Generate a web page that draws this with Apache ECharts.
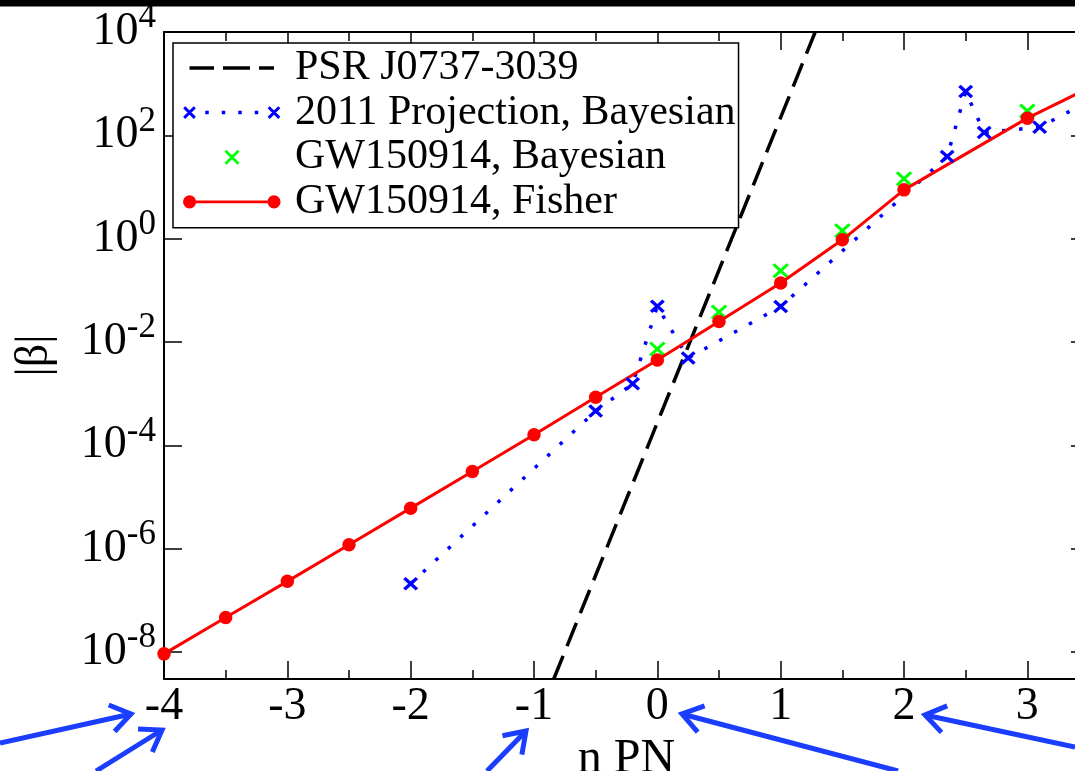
<!DOCTYPE html>
<html><head><meta charset="utf-8">
<script src="https://cdn.jsdelivr.net/npm/echarts@6/dist/echarts.min.js"></script>
<style>html,body{margin:0;padding:0;background:#fff}#c{width:1075px;height:771px}</style>
</head><body><div id="c"></div>
<script>
// ---------- data ----------
const seriesNames = ['PSR J0737-3039', '2011 Projection, Bayesian', 'GW150914, Bayesian', 'GW150914, Fisher'];
const yTickValues = [1e-8, 1e-6, 1e-4, 1e-2, 1, 1e2, 1e4];

const psrN = [-0.84, 1.28];
const psrBeta = [3e-9, 1e4];

const projN = [-2, -0.5, -0.2, 0, 0.25, 1, 2.35, 2.5, 2.65, 3.1, 3.5];
const projBeta = [2.1e-7, 4.6e-4, 1.55e-3, 4.9e-2, 4.9e-3, 4.85e-2, 38.8, 703, 113, 144, 460];

const bayesN = [0, 0.5, 1, 1.5, 2, 3];
const bayesBeta = [7.3e-3, 3.8e-2, 0.24, 1.42, 14.4, 297];

const fisherN = [-4, -3.5, -3, -2.5, -2, -1.5, -1, -0.5, 0, 0.5, 1, 1.5, 2, 3, 3.5];
const fisherBeta = [9.2e-9, 4.65e-8, 2.33e-7, 1.19e-6, 6.08e-6, 3.11e-5, 1.6e-4, 8.55e-4, 4.5e-3, 2.49e-2, 0.138, 0.95, 8.8, 215, 830];

// ---------- helpers ----------
const FONT = 'Liberation Serif';
const zip = (a, b) => a.map((v, i) => [v, b[i]]);
function polyP(pts) { return 'M' + pts.map(q => q[0].toFixed(2) + ' ' + q[1].toFixed(2)).join(' L') + ' Z '; }
function xShape(cx, cy, s, w) {
  const o = w / (2 * Math.SQRT2);
  const d1 = [[cx - s + o, cy - s - o], [cx + s + o, cy + s - o], [cx + s - o, cy + s + o], [cx - s - o, cy - s + o]];
  const d2 = [[cx - s - o, cy + s - o], [cx + s - o, cy - s - o], [cx + s + o, cy - s + o], [cx - s + o, cy + s + o]];
  return polyP(d1) + polyP(d2);
}
function rectP(x0, y0, x1, y1) { return polyP([[x0, y0], [x1, y0], [x1, y1], [x0, y1]]); }
function circP(cx, cy, r) { return `M${cx - r} ${cy} A${r} ${r} 0 1 0 ${cx + r} ${cy} A${r} ${r} 0 1 0 ${cx - r} ${cy} Z `; }

const IW = 107, IH = 20, CY = 10;
const BOX = `M0 0 M${IW} ${IH} `;
const iconPSR = 'path://' + BOX + rectP(6.5, CY - 1.75, 31, CY + 1.75) + rectP(40, CY - 1.75, 67, CY + 1.75) + rectP(76, CY - 1.75, 91, CY + 1.75);
const iconProj = 'path://' + BOX + xShape(6.5, CY, 5.3, 3) + xShape(91, CY, 5.3, 3)
  + [24, 40.5, 57, 73.5].map(x => rectP(x - 1.75, CY - 1.75, x + 1.75, CY + 1.75)).join('');
const iconBayes = 'path://' + BOX + xShape(49, CY, 6.5, 2.8);
const iconFisher = 'path://' + BOX + circP(6.5, CY, 6.6) + circP(91, CY, 6.6) + rectP(13, CY - 1.4, 84.5, CY + 1.4);

const symProj = 'path://' + xShape(0, 0, 5.6, 3.1);
const symBayes = 'path://' + xShape(0, 0, 6.5, 2.9);

// decorative slide arrows (tail -> tip), pixels
const arrows = [
  [[0, 743], [131, 714]],
  [[96, 771], [162, 730]],
  [[487, 771], [526, 731]],
  [[898, 771], [682, 714]],
  [[1075, 747], [925, 715]]
];
const ARROW = '#1a3dff';
function arrowGraphics() {
  const out = [];
  arrows.forEach(([t, p]) => {
    const ang = Math.atan2(t[1] - p[1], t[0] - p[0]);
    const L = 24, a = 0.6;
    const h1 = [p[0] + L * Math.cos(ang + a), p[1] + L * Math.sin(ang + a)];
    const h2 = [p[0] + L * Math.cos(ang - a), p[1] + L * Math.sin(ang - a)];
    out.push({ type: 'polyline', shape: { points: [t, p] }, style: { stroke: ARROW, lineWidth: 5, fill: null }, z: 100 });
    out.push({ type: 'polyline', shape: { points: [h1, p, h2] }, style: { stroke: ARROW, lineWidth: 5, fill: null, lineJoin: 'miter' }, z: 100 });
  });
  return out;
}

// ---------- axes ----------
const axisLine = { show: true, onZero: false, lineStyle: { color: '#000', width: 2 } };
const xBase = { type: 'value', min: -4, max: 3.5, splitLine: { show: false }, axisLine };
const tickStyle = { color: '#000', width: 1.5 };
const xAxes = [
  Object.assign({}, xBase, {
    position: 'bottom', interval: 1,
    axisTick: { inside: true, length: 18, lineStyle: tickStyle },
    axisLabel: { showMaxLabel: false, fontFamily: FONT, fontSize: 46, lineHeight: 46, color: '#000', margin: 5 },
    name: 'n PN', nameLocation: 'middle', nameGap: 44,
    nameTextStyle: { fontFamily: FONT, fontSize: 48, lineHeight: 46, color: '#000' }
  }),
  Object.assign({}, xBase, { position: 'bottom', interval: 0.5, axisLine: { show: false, onZero: false }, axisTick: { inside: true, length: 9, lineStyle: tickStyle }, axisLabel: { show: false } }),
  Object.assign({}, xBase, { position: 'top', interval: 1, axisTick: { inside: true, length: 18, lineStyle: tickStyle }, axisLabel: { show: false } }),
  Object.assign({}, xBase, { position: 'top', interval: 0.5, axisLine: { show: false, onZero: false }, axisTick: { inside: true, length: 9, lineStyle: tickStyle }, axisLabel: { show: false } })
];
const yBase = { type: 'log', logBase: 10, min: 3e-9, max: 1e4, splitLine: { show: false }, minorTick: { show: false }, axisLine };
const yAxes = [
  Object.assign({}, yBase, {
    position: 'left',
    axisTick: { inside: true, length: 18, lineStyle: tickStyle, customValues: yTickValues },
    axisLabel: {
      customValues: yTickValues, margin: 8, color: '#000',
      formatter: v => '{b|10}{e|' + Math.round(Math.log10(v)) + '}',
      rich: {
        b: { fontFamily: FONT, fontSize: 46, lineHeight: 46, verticalAlign: 'bottom', color: '#000' },
        e: { fontFamily: FONT, fontSize: 35, lineHeight: 34, padding: [3, 0, 31, 0], color: '#000' }
      }
    },
    name: '|β|', nameLocation: 'middle', nameGap: 106, nameRotate: 90,
    nameTextStyle: { fontFamily: FONT, fontSize: 46, lineHeight: 46, color: '#000' }
  }),
  Object.assign({}, yBase, { position: 'right', axisTick: { inside: true, length: 18, lineStyle: tickStyle, customValues: yTickValues }, axisLabel: { show: false } })
];

const option = {
  animation: false,
  backgroundColor: '#fff',
  grid: { left: 164, right: -14, top: 32, bottom: 92, containLabel: false, outerBoundsMode: 'none' },
  xAxis: xAxes,
  yAxis: yAxes,
  legend: {
    orient: 'vertical', left: 173, top: 43, padding: [4, 3, 5, 10], itemGap: 2.6,
    itemWidth: IW, itemHeight: IH, selectedMode: false,
    backgroundColor: '#fff', borderColor: '#000', borderWidth: 1.5,
    textStyle: { fontFamily: FONT, fontSize: 42, lineHeight: 42, color: '#000' },
    itemStyle: { borderWidth: 0 },
    data: [
      { name: seriesNames[0], icon: iconPSR, itemStyle: { color: '#000', borderWidth: 0 } },
      { name: seriesNames[1], icon: iconProj, itemStyle: { color: '#0000ff', borderWidth: 0 } },
      { name: seriesNames[2], icon: iconBayes, itemStyle: { color: '#00ff00', borderWidth: 0 } },
      { name: seriesNames[3], icon: iconFisher, itemStyle: { color: '#ff0000', borderWidth: 0 } }
    ]
  },
  series: [
    {
      name: seriesNames[0], type: 'line', data: zip(psrN, psrBeta), showSymbol: false, symbol: 'none',
      lineStyle: { color: '#000', width: 3.5, type: [25, 10.5], cap: 'butt' }, itemStyle: { color: '#000' }
    },
    {
      name: seriesNames[1], type: 'line', data: zip(projN, projBeta),
      symbol: symProj, symbolSize: [15, 13.5], symbolKeepAspect: false,
      lineStyle: { color: '#0000ff', width: 3.5, type: [3.5, 13.5], cap: 'butt' },
      itemStyle: { color: '#0000ff', borderWidth: 0 }
    },
    {
      name: seriesNames[2], type: 'scatter', data: zip(bayesN, bayesBeta),
      symbol: symBayes, symbolSize: [16.5, 15], symbolKeepAspect: false,
      itemStyle: { color: '#00ff00', borderWidth: 0, opacity: 1 }
    },
    {
      name: seriesNames[3], type: 'line', data: zip(fisherN, fisherBeta),
      symbol: 'circle', symbolSize: 13.5,
      lineStyle: { color: '#ff0000', width: 3 },
      itemStyle: { color: '#ff0000', borderWidth: 0 }
    }
  ],
  graphic: [
    { type: 'rect', shape: { x: 0, y: 0, width: 1075, height: 6.5 }, style: { fill: '#000' }, z: 100 }
  ].concat(arrowGraphics())
};
const chart = echarts.init(document.getElementById('c'), null, { renderer: 'canvas' });
chart.setOption(option);
</script>
</body></html>
